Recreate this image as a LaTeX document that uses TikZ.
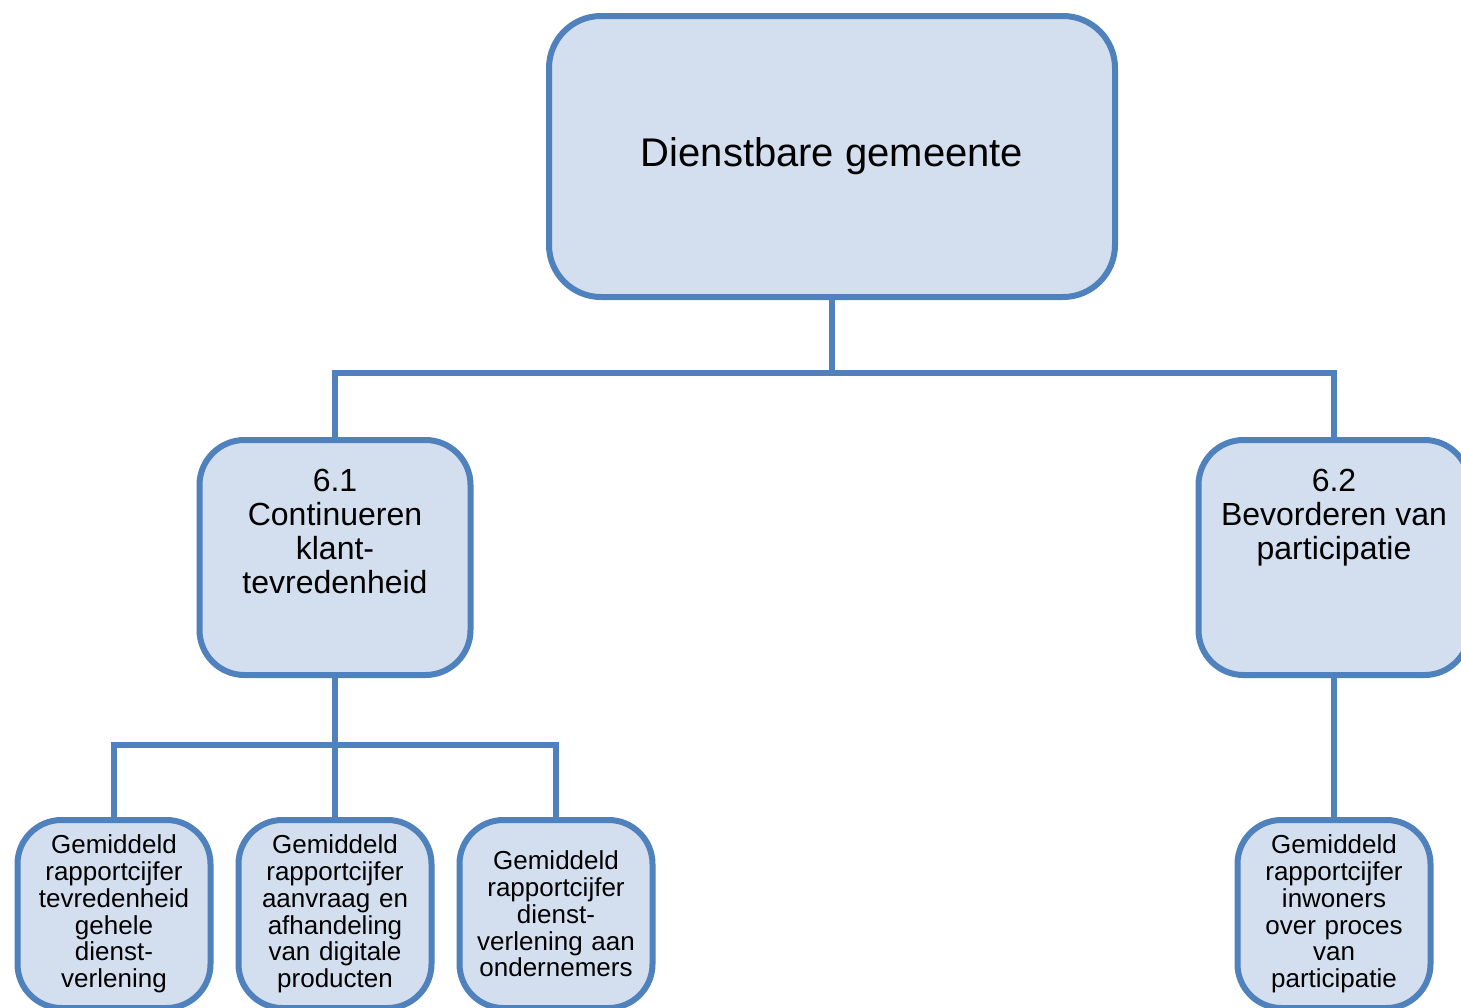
\documentclass[tikz,border=0pt]{standalone}
\usepackage{fontspec}
\setmainfont{Liberation Sans}
\definecolor{lineblue}{HTML}{4F81BD}
\definecolor{fillblue}{HTML}{D3DFEE}

\tikzset{
  box/.style={draw=lineblue, fill=fillblue, line width=6pt, inner sep=0pt},
  topbox/.style={box, rounded corners=52pt, minimum width=566pt, minimum height=281pt,
    font=\fontsize{40}{46}\selectfont},
  midbox/.style={box, rounded corners=45pt, minimum width=271pt, minimum height=235pt},
  midtext/.style={anchor=north, inner sep=0pt, align=center,
    font=\fontsize{32}{34}\selectfont},
  lowbox/.style={box, rounded corners=44pt, minimum width=193pt, minimum height=188pt,
    text width=188pt, align=center, font=\fontsize{26}{26.8}\selectfont},
  conn/.style={draw=lineblue, line width=6pt}
}

\begin{document}
\begin{tikzpicture}[x=1pt, y=-1pt]

  \useasboundingbox (0, 0) rectangle (1461, 1007);
  \clip (0, 0) rectangle (1461, 1007);
  \fill[white] (0, 0) rectangle (1461, 1007);

  % LINES
  \coordinate (topfoot) at (832, 373);
  \coordinate (leftfoot) at (335, 745);

  % BOXES
  \node[topbox] (top) at (832, 156.5) {Dienstbare gemeente};

  \node[midbox] (c1) at (335, 557.5) {};
  \node[midbox] (c2) at (1334, 557.5) {};
  \node[midtext] (t1) at (335, 469) {6.1\\Continueren\\klant-\\tevredenheid};
  \node[midtext] (t2) at (1334, 469) {6.2\\Bevorderen van\\participatie};

  \node[lowbox] (k1) at (114, 914) {Gemiddeld\\rapportcijfer\\tevredenheid\\gehele\\dienst-\\verlening};
  \node[lowbox] (k2) at (335, 914) {Gemiddeld\\rapportcijfer\\aanvraag en\\afhandeling\\van digitale\\producten};
  \node[lowbox] (k3) at (556, 914) {Gemiddeld\\rapportcijfer\\dienst-\\verlening aan\\ondernemers};
  \node[lowbox] (k4) at (1334, 914) {Gemiddeld\\rapportcijfer\\inwoners\\over proces\\van\\participatie};

  % CONNECTORS
  \draw[conn] (top.south) -- (topfoot) -| (c1.north);
  \draw[conn] (topfoot) -| (c2.north);
  \draw[conn] (c1.south) -- (leftfoot) -| (k1.north);
  \draw[conn] (leftfoot) -- (k2.north);
  \draw[conn] (leftfoot) -| (k3.north);
  \draw[conn] (c2.south) -- (k4.north);

\end{tikzpicture}
\end{document}
